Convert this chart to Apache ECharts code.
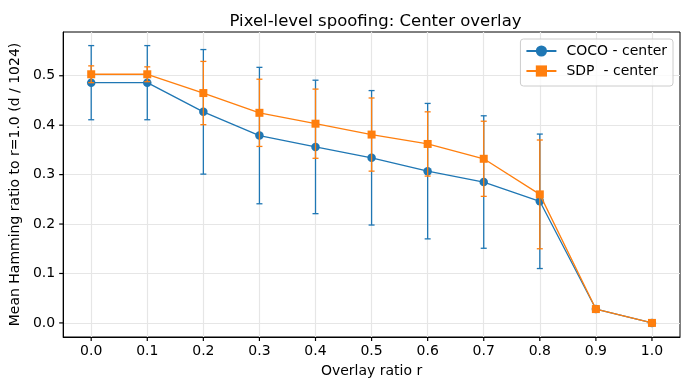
<!DOCTYPE html>
<html>
<head>
<meta charset="utf-8">
<script src="https://cdn.jsdelivr.net/npm/echarts@6/dist/echarts.min.js"></script>
<style>
  html, body { margin: 0; padding: 0; background: #fff; }
  #chart { width: 690px; height: 390px; }
</style>
</head>
<body>
<div id="chart"></div>
<script>
// overlay ratios (x) and per-ratio mean / std of the hamming ratio
var ratios = [0.0, 0.1, 0.2, 0.3, 0.4, 0.5, 0.6, 0.7, 0.8, 0.9, 1.0];
var cocoMean = [0.486, 0.486, 0.427, 0.379, 0.356, 0.334, 0.307, 0.285, 0.246, 0.028, 0.0];
var cocoStd  = [0.075, 0.075, 0.126, 0.138, 0.135, 0.136, 0.137, 0.134, 0.136, 0.002, 0.0];
var sdpMean  = [0.503, 0.503, 0.465, 0.425, 0.403, 0.381, 0.362, 0.332, 0.260, 0.028, 0.0];
var sdpStd   = [0.017, 0.015, 0.064, 0.068, 0.070, 0.074, 0.065, 0.076, 0.110, 0.002, 0.0];
var yTicks = [0.0, 0.1, 0.2, 0.3, 0.4, 0.5];

var BLUE = '#1f77b4';
var ORANGE = '#ff7f0e';
var FONT = '"DejaVu Sans", sans-serif';

var myChart = echarts.init(document.getElementById('chart'), null, { renderer: 'canvas' });

function pts(mean) {
	return ratios.map(function (r, i) { return [r, mean[i]]; });
}
function bars(mean, std) {
	return ratios.map(function (r, i) { return [r, mean[i] - std[i], mean[i] + std[i]]; });
}
function errRender(color) {
	return function (params, api) {
		var lo = api.coord([api.value(0), api.value(1)]);
		var hi = api.coord([api.value(0), api.value(2)]);
		var cw = 3;
		var st = { stroke: color, lineWidth: 1.3 };
		return {
			type: 'group',
			children: [
				{ type: 'line', shape: { x1: lo[0], y1: lo[1], x2: hi[0], y2: hi[1] }, style: st },
				{ type: 'line', shape: { x1: lo[0] - cw, y1: lo[1], x2: lo[0] + cw, y2: lo[1] }, style: st },
				{ type: 'line', shape: { x1: hi[0] - cw, y1: hi[1], x2: hi[0] + cw, y2: hi[1] }, style: st }
			]
		};
	};
}
// outward tick marks on the plot frame
function tickRender(horizontal) {
	return function (params, api) {
		var cs = params.coordSys;
		var p = api.coord([api.value(0), api.value(1)]);
		var len = 4;
		var shape = horizontal
			? { x1: p[0], y1: cs.y + cs.height, x2: p[0], y2: cs.y + cs.height + len }
			: { x1: cs.x, y1: p[1], x2: cs.x - len, y2: p[1] };
		return { type: 'line', shape: shape, style: { stroke: '#000', lineWidth: 1.2 } };
	};
}

var option = {
	animation: false,
	title: {
		text: 'Pixel-level spoofing: Center overlay',
		left: 370.5,
		textAlign: 'center',
		top: 8,
		textStyle: { fontFamily: FONT, fontSize: 16.5, fontWeight: 'normal', color: '#000' }
	},
	legend: {
		data: ['COCO - center', 'SDP  - center'],
		orient: 'vertical',
		right: 17,
		top: 39,
		padding: [5, 6, 8, 5],
		itemWidth: 30,
		itemHeight: 14,
		itemGap: 6,
		borderColor: '#cccccc',
		borderWidth: 1,
		borderRadius: 3,
		backgroundColor: 'rgba(255,255,255,0.8)',
		textStyle: { fontFamily: FONT, fontSize: 14, color: '#000', padding: [0, 0, 0, 5] }
	},
	grid: {
		left: 61, right: 10, top: 32, bottom: 53,
		show: true, borderColor: '#000', borderWidth: 1, backgroundColor: 'transparent'
	},
	xAxis: {
		type: 'value',
		min: -0.05,
		max: 1.05,
		name: 'Overlay ratio r',
		nameLocation: 'middle',
		nameGap: 27,
		nameTextStyle: { fontFamily: FONT, fontSize: 14, color: '#000' },
		axisLine: { show: true, onZero: false, lineStyle: { color: '#000', width: 1 } },
		axisTick: { show: false, customValues: ratios },
		axisLabel: {
			customValues: ratios, margin: 7, color: '#000', fontFamily: FONT, fontSize: 14,
			formatter: function (v) { return v.toFixed(1); }
		},
		splitLine: { show: true, lineStyle: { color: '#e6e6e6', width: 1.2 } }
	},
	yAxis: {
		type: 'value',
		min: -0.0285,
		max: 0.5885,
		name: 'Mean Hamming ratio to r=1.0 (d / 1024)',
		nameLocation: 'middle',
		nameGap: 36,
		nameTextStyle: { fontFamily: FONT, fontSize: 14, color: '#000' },
		axisLine: { show: true, onZero: false, lineStyle: { color: '#000', width: 1 } },
		axisTick: { show: false, customValues: yTicks },
		axisLabel: {
			customValues: yTicks, margin: 8, color: '#000', fontFamily: FONT, fontSize: 14,
			formatter: function (v) { return v.toFixed(1); }
		},
		splitLine: { show: true, lineStyle: { color: '#e6e6e6', width: 1.2 } }
	},
	series: [
		{
			name: 'x-ticks', type: 'custom', z: 1, silent: true, clip: false,
			renderItem: tickRender(true),
			encode: { x: 0, y: 1 },
			data: ratios.map(function (r) { return [r, 0]; })
		},
		{
			name: 'y-ticks', type: 'custom', z: 1, silent: true, clip: false,
			renderItem: tickRender(false),
			encode: { x: 0, y: 1 },
			data: yTicks.map(function (v) { return [0, v]; })
		},
		{
			name: 'coco-err', type: 'custom', z: 2,
			renderItem: errRender(BLUE),
			encode: { x: 0, y: [1, 2] },
			data: bars(cocoMean, cocoStd)
		},
		{
			name: 'COCO - center', type: 'line', z: 3,
			data: pts(cocoMean),
			symbol: 'circle', symbolSize: 8.5, showAllSymbol: true,
			lineStyle: { color: BLUE, width: 1.3 },
			itemStyle: { color: BLUE }
		},
		{
			name: 'sdp-err', type: 'custom', z: 4,
			renderItem: errRender(ORANGE),
			encode: { x: 0, y: [1, 2] },
			data: bars(sdpMean, sdpStd)
		},
		{
			name: 'SDP  - center', type: 'line', z: 5,
			data: pts(sdpMean),
			symbol: 'rect', symbolSize: 8, showAllSymbol: true,
			lineStyle: { color: ORANGE, width: 1.3 },
			itemStyle: { color: ORANGE }
		}
	]
};

myChart.setOption(option);
</script>
</body>
</html>
